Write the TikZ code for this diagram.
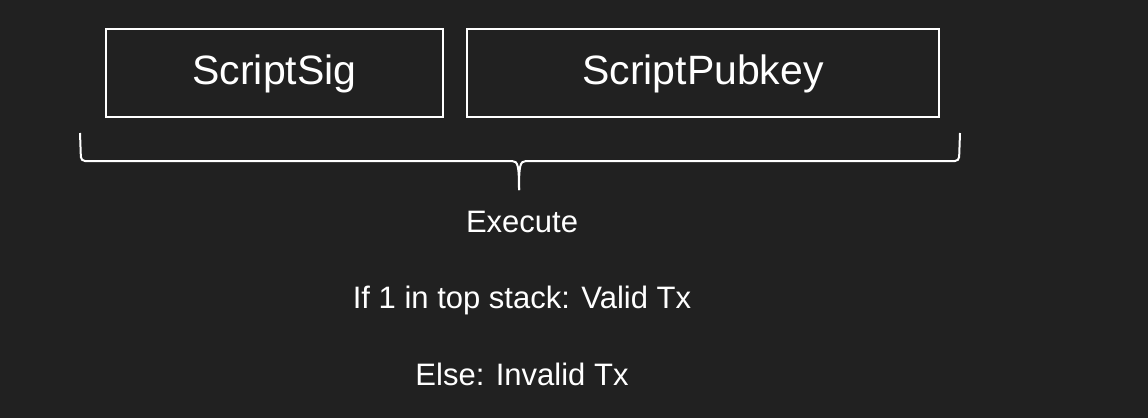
\documentclass[tikz,border=0pt]{standalone}
\usepackage{fontspec}
\setmainfont{Liberation Sans}
\definecolor{bgdark}{HTML}{212121}
\tikzset{
  scriptbox/.style={draw=white, line width=2pt, inner sep=0pt},
  bigtext/.style={text=white, font=\fontsize{41}{49}\selectfont},
  smalltext/.style={text=white, font=\fontsize{31}{37}\selectfont, anchor=base},
  brace/.style={draw=white, line width=2pt, rounded corners=4pt}
}
\begin{document}
\begin{tikzpicture}[x=1pt, y=-1pt]
      \fill[bgdark] (0, 0) rectangle (1148, 418);
      \useasboundingbox (0, 0) rectangle (1148, 418);

      \node[scriptbox, minimum width=337pt, minimum height=88pt] (sig) at (274.5, 73){};
      \node[bigtext, anchor=base] (sigtext) at (274.5, 84){ScriptSig};
      \node[scriptbox, minimum width=472pt, minimum height=88pt] (pub) at (703, 73){};
      \node[bigtext, anchor=base] (pubtext) at (703, 84){ScriptPubkey};

      % brace under both scripts
      \coordinate (bl) at (80, 133);
      \coordinate (br) at (960, 133);
      \coordinate (tip) at (519, 190);
      \draw[brace] (bl) -- (81, 161) -- (512, 161);
      \draw[brace] (br) -- (959, 161) -- (526, 161);
      \draw[draw=white, line width=2pt] (512, 161) .. controls (518, 161) and (519, 166) .. (tip);
      \draw[draw=white, line width=2pt] (526, 161) .. controls (520, 161) and (519, 166) .. (tip);

      \node[smalltext] (exec) at (522, 232){Execute};
      \node[smalltext] (valid) at (522, 308){If 1 in top stack: Valid Tx};
      \node[smalltext] (invalid) at (522, 385){Else: Invalid Tx};
    \end{tikzpicture}
\end{document}
